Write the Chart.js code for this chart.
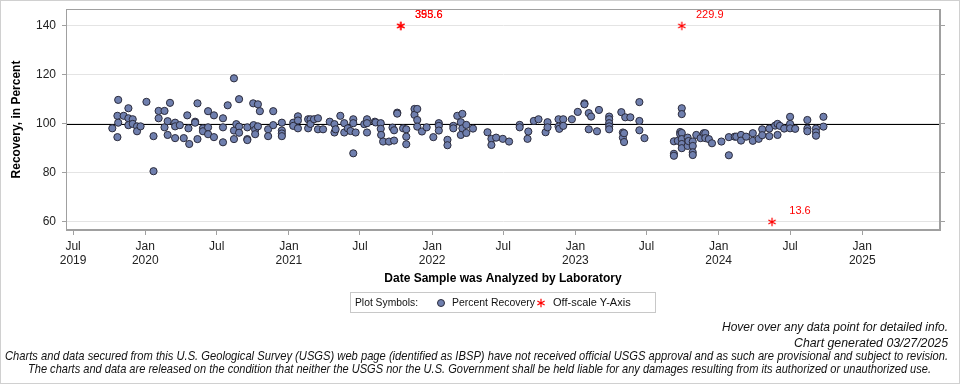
<!DOCTYPE html>
<html>
<head>
<meta charset="utf-8">
<script src="https://cdn.jsdelivr.net/npm/chart.js@4.4.1/dist/chart.umd.min.js"></script>
<style>
  html, body { margin: 0; padding: 0; background: #fff; }
  canvas { display: block; }
</style>
</head>
<body>
<canvas id="myChart" width="960" height="384"></canvas>
<script>
// recovery samples (date analyzed, percent recovery)
const recoveryDates = [
  '2019-10-09','2019-10-22','2019-10-22','2019-10-24','2019-10-24','2019-11-07','2019-11-19','2019-11-19','2019-11-19',
  '2019-11-30','2019-11-30','2019-12-11','2019-12-11','2019-12-20',
  '2020-01-04','2020-01-22','2020-01-22','2020-02-04','2020-02-04','2020-02-19','2020-02-19','2020-02-27','2020-02-27',
  '2020-03-04','2020-03-17','2020-03-17','2020-03-17','2020-03-29','2020-04-08','2020-04-17','2020-04-20','2020-04-22',
  '2020-05-07','2020-05-07','2020-05-13','2020-05-13','2020-05-27','2020-05-27','2020-06-09','2020-06-09','2020-06-09',
  '2020-06-24','2020-06-24','2020-07-17','2020-07-17','2020-07-17','2020-07-29','2020-08-14','2020-08-14','2020-08-14',
  '2020-08-20','2020-08-27','2020-08-27','2020-08-27','2020-09-17','2020-09-17','2020-09-17','2020-10-02','2020-10-03',
  '2020-10-07','2020-10-07','2020-10-14','2020-10-14','2020-10-19','2020-11-09','2020-11-09','2020-11-22','2020-11-22',
  '2020-12-14','2020-12-14','2020-12-14','2020-12-14',
  '2021-01-12','2021-01-12','2021-01-24','2021-01-24','2021-01-24','2021-02-19','2021-02-19','2021-02-25','2021-02-25',
  '2021-03-06','2021-03-16','2021-03-16','2021-03-29','2021-04-15','2021-04-27','2021-04-27','2021-04-30','2021-05-12',
  '2021-05-22','2021-05-22','2021-05-31','2021-06-07','2021-06-14','2021-06-14','2021-06-14','2021-06-20','2021-07-12',
  '2021-07-19','2021-07-19','2021-07-19','2021-08-08','2021-08-10','2021-08-23','2021-08-23','2021-08-24','2021-08-29',
  '2021-09-13','2021-09-22','2021-09-26','2021-09-26','2021-10-04','2021-10-04','2021-10-19','2021-10-27','2021-10-27',
  '2021-10-27','2021-11-17','2021-11-17','2021-11-24','2021-11-24','2021-11-24','2021-12-06','2021-12-18',
  '2022-01-04','2022-01-18','2022-01-18','2022-01-18','2022-02-09','2022-02-09','2022-02-24','2022-02-24','2022-03-06',
  '2022-03-15','2022-03-15','2022-03-19','2022-03-19','2022-03-29','2022-03-29','2022-04-15','2022-05-22','2022-06-01',
  '2022-06-01','2022-06-13','2022-06-30','2022-07-16','2022-08-12','2022-08-12','2022-09-01','2022-09-03','2022-09-17',
  '2022-09-29','2022-10-17','2022-10-22','2022-10-22','2022-11-19','2022-11-19','2022-11-21','2022-12-01','2022-12-01',
  '2022-12-23',
  '2023-01-07','2023-01-24','2023-01-24','2023-02-04','2023-02-04','2023-02-10','2023-02-25','2023-03-02','2023-03-28',
  '2023-03-28','2023-03-28','2023-03-28','2023-03-28','2023-04-28','2023-05-02','2023-05-02','2023-05-05','2023-05-05',
  '2023-05-08','2023-05-21','2023-06-13','2023-06-13','2023-06-13','2023-06-26','2023-09-09','2023-09-09','2023-09-09',
  '2023-09-19','2023-09-25','2023-09-25','2023-09-29','2023-09-29','2023-09-29','2023-09-29','2023-09-29','2023-09-29',
  '2023-10-14','2023-10-14','2023-10-16','2023-10-27','2023-10-27','2023-10-27','2023-10-27','2023-11-05','2023-11-16',
  '2023-11-24','2023-11-28','2023-11-28','2023-12-07','2023-12-15',
  '2024-01-08','2024-01-27','2024-01-27','2024-02-11','2024-02-15','2024-02-27','2024-02-27','2024-03-11','2024-03-28',
  '2024-03-28','2024-04-12','2024-04-21','2024-04-21','2024-05-09','2024-05-09','2024-05-24','2024-05-30','2024-05-30',
  '2024-06-05','2024-06-16','2024-07-01','2024-07-01','2024-07-01','2024-07-14','2024-08-14','2024-08-14','2024-08-14',
  '2024-09-05','2024-09-05','2024-09-05','2024-09-24','2024-09-24'
];
const recoveryValues = [
  98.2,103.3,94.6,109.8,100.5,103.3,106.4,102.3,99.5,
  101.9,100.0,99.0,97.0,99.0,
  109.0,95.0,80.7,105.3,102.3,105.3,98.6,101.1,95.5,
  108.6,100.5,99.0,94.2,99.5,94.2,103.5,98.2,91.8,
  100.9,100.5,108.4,93.8,98.2,97.0,105.2,98.6,95.8,
  103.5,94.6,102.3,98.6,92.5,107.6,118.6,97.3,93.8,
  99.9,110.1,98.9,96.4,98.6,93.8,93.4,108.4,99.5,
  97.6,95.8,108.0,99.0,105.2,97.8,95.0,105.2,99.5,
  100.5,97.3,96.1,95.0,
  100.5,99.2,103.1,101.4,98.2,101.9,98.2,101.9,100.0,
  101.9,102.3,97.8,97.8,100.9,99.9,96.5,97.8,103.3,
  100.3,96.5,98.2,97.1,101.9,100.3,88.0,96.5,99.9,
  101.9,100.3,96.5,100.9,100.6,100.3,98.0,95.5,92.8,
  92.8,98.5,97.4,93.2,104.6,104.2,98.2,97.8,94.8,
  91.7,106.1,103.7,106.1,101.6,98.9,96.9,98.6,
  94.6,100.3,99.2,97.3,93.5,91.3,99.2,98.2,103.3,
  100.7,95.5,104.1,98.2,99.6,96.3,98.1,96.6,93.9,
  91.4,94.4,93.9,92.8,99.6,98.6,93.9,96.9,101.2,
  101.9,96.6,100.7,98.6,101.9,98.9,98.0,101.9,99.2,
  101.9,
  104.9,108.4,108.0,104.4,97.8,103.0,97.0,105.7,103.0,
  101.9,100.3,99.0,97.8,104.8,96.5,94.4,96.2,92.6,
  102.7,102.7,108.9,101.2,97.4,94.2,92.9,87.8,87.0,
  93.1,96.7,95.8,106.4,104.0,96.3,93.8,91.8,90.1,
  94.4,91.0,93.0,92.8,91.0,88.4,87.3,95.5,94.2,
  96.2,96.2,94.2,93.8,92.1,
  92.8,94.6,87.2,94.8,94.8,95.5,93.2,94.8,96.2,
  93.1,93.9,97.8,95.4,98.1,95.0,99.3,100.0,95.5,
  99.2,98.1,102.9,100.0,98.2,98.0,101.6,98.1,97.0,
  98.1,96.6,95.2,102.9,98.9
];

// values outside the y range, drawn at the axis edge with their value
const offscaleDates = ['2021-10-13', '2021-10-13', '2023-09-29', '2024-05-16'];
const offscaleValues = [355.6, 393.6, 229.9, 13.6];

const yTicks = [60, 80, 100, 120, 140];
const xTickDates = ['2019-07-01', '2020-01-01', '2020-07-01', '2021-01-01', '2021-07-01', '2022-01-01', '2022-07-01',
                    '2023-01-01', '2023-07-01', '2024-01-01', '2024-07-01', '2025-01-01'];
const xTickLabels = [['Jul', '2019'], ['Jan', '2020'], 'Jul', ['Jan', '2021'], 'Jul', ['Jan', '2022'], 'Jul',
                     ['Jan', '2023'], 'Jul', ['Jan', '2024'], 'Jul', ['Jan', '2025']];

const toMs = s => Date.parse(s + 'T00:00:00Z');
const yMin = 56.7, yMax = 146.9;
const pointFill = '#6f7fae';

function makeStar(size) {
  const c = document.createElement('canvas');
  c.width = c.height = size;
  const g = c.getContext('2d');
  g.strokeStyle = '#ff0000';
  g.lineWidth = 1.2;
  const m = size / 2, r = size / 2 - 0.8;
  g.beginPath();
  for (let k = 0; k < 3; k++) {
    const a = Math.PI / 2 + k * Math.PI / 3;
    g.moveTo(m + r * Math.cos(a), m + r * Math.sin(a));
    g.lineTo(m - r * Math.cos(a), m - r * Math.sin(a));
  }
  g.stroke();
  return c;
}
const star = makeStar(10);

const extras = {
  id: 'extras',
  beforeDatasetsDraw(chart) {
    const { ctx, chartArea } = chart;
    const y = Math.round(chart.scales.y.getPixelForValue(100)) + 0.5;
    ctx.save();
    ctx.strokeStyle = '#000';
    ctx.lineWidth = 1;
    ctx.beginPath();
    ctx.moveTo(chartArea.left, y);
    ctx.lineTo(chartArea.right, y);
    ctx.stroke();
    ctx.restore();
  },
  afterDraw(chart) {
    const { ctx, chartArea } = chart;
    ctx.save();
    // outer page border
    ctx.strokeStyle = '#d0d0d0';
    ctx.lineWidth = 1;
    ctx.strokeRect(0.5, 0.5, chart.width - 1, chart.height - 1);
    // plot frame
    ctx.strokeStyle = '#a0a0a0';
    ctx.strokeRect(chartArea.left + 0.5, chartArea.top + 0.5, chartArea.width - 1, chartArea.height - 1);

    // off-scale value labels
    ctx.fillStyle = '#ff0000';
    ctx.font = '11px "Liberation Sans", Arial, sans-serif';
    ctx.textAlign = 'center';
    ctx.textBaseline = 'middle';
    offscaleDates.forEach((d, i) => {
      const px = chart.scales.x.getPixelForValue(toMs(d));
      const py = chart.scales.y.getPixelForValue(Math.min(Math.max(offscaleValues[i], 60), 140));
      ctx.fillText(offscaleValues[i].toFixed(1), px + 28, py - 11);
    });

    // legend box
    ctx.strokeStyle = '#c8c8c8';
    ctx.strokeRect(350.5, 292.5, 305, 20);
    ctx.fillStyle = '#111';
    ctx.textAlign = 'left';
    ctx.fillText('Plot Symbols:', 355, 303, 63);
    ctx.beginPath();
    ctx.arc(441, 303, 3.5, 0, Math.PI * 2);
    ctx.fillStyle = pointFill;
    ctx.fill();
    ctx.strokeStyle = '#2b2b3b';
    ctx.stroke();
    ctx.fillStyle = '#111';
    ctx.fillText('Percent Recovery', 452, 303, 83);
    ctx.drawImage(star, 536, 298);
    ctx.fillText('Off-scale Y-Axis', 553, 303, 96);

    // footer notes
    ctx.font = 'italic 13px "Liberation Sans", Arial, sans-serif';
    ctx.textAlign = 'right';
    ctx.fillText('Hover over any data point for detailed info.', 948, 327, 226);
    ctx.fillText('Chart generated 03/27/2025', 948, 343, 154);
    ctx.textAlign = 'center';
    ctx.fillText('Charts and data secured from this U.S. Geological Survey (USGS) web page (identified as IBSP) have not received official USGS approval and as such are provisional and subject to revision.', 476.5, 356, 943);
    ctx.fillText('The charts and data are released on the condition that neither the USGS nor the U.S. Government shall be held liable for any damages resulting from its authorized or unauthorized use.', 479.5, 369, 903);
    ctx.restore();
  }
};

Chart.defaults.font.family = '"Liberation Sans", Arial, sans-serif';
Chart.defaults.font.size = 12;
Chart.defaults.color = '#222';

const fitY = w => s => { s.width = w; s.paddingTop = 0; s.paddingBottom = 0; };

const ctx = document.getElementById('myChart').getContext('2d');
new Chart(ctx, {
  type: 'scatter',
  data: {
    datasets: [{
      label: 'Percent Recovery',
      data: recoveryDates.map((d, i) => ({ x: toMs(d), y: recoveryValues[i] })),
      backgroundColor: pointFill,
      borderColor: '#2b2b3b',
      borderWidth: 1,
      pointRadius: 3.6,
      pointHoverRadius: 4.5
    }, {
      label: 'Off-scale Y-Axis',
      data: offscaleDates.map((d, i) => ({ x: toMs(d), y: Math.min(Math.max(offscaleValues[i], 60), 140) })),
      pointStyle: star,
      pointRadius: 5
    }]
  },
  options: {
    responsive: false,
    animation: false,
    layout: { padding: { top: 9, left: 0, right: 0, bottom: 94 } },
    plugins: { legend: { display: false }, tooltip: { enabled: true } },
    scales: {
      x: {
        type: 'linear',
        min: toMs('2019-06-13'),
        max: toMs('2025-07-18'),
        afterBuildTicks: s => { s.ticks = xTickDates.map(d => ({ value: toMs(d) })); },
        afterFit: s => { s.height = 60; },
        ticks: {
          autoSkip: false,
          maxRotation: 0,
          padding: 4,
          callback: (v, i) => xTickLabels[i]
        },
        grid: { drawOnChartArea: false, tickLength: 5, tickColor: '#a0a0a0' },
        border: { color: '#a0a0a0' },
        title: {
          display: true,
          text: 'Date Sample was Analyzed by Laboratory',
          font: { weight: 'bold', size: 12 },
          color: '#000',
          padding: { top: 0, bottom: 4 }
        }
      },
      y: {
        min: yMin,
        max: yMax,
        afterBuildTicks: s => { s.ticks = yTicks.map(v => ({ value: v })); },
        afterFit: fitY(66),
        ticks: { padding: 6 },
        grid: { color: '#e4e4e4', tickLength: 4, tickColor: '#a0a0a0' },
        border: { color: '#a0a0a0' },
        title: {
          display: true,
          text: 'Recovery, in Percent',
          font: { weight: 'bold', size: 12 },
          color: '#000',
          padding: { top: 9, bottom: 0 }
        }
      },
      y2: {
        position: 'right',
        min: yMin,
        max: yMax,
        afterBuildTicks: s => { s.ticks = yTicks.map(v => ({ value: v })); },
        afterFit: fitY(20),
        ticks: { display: false },
        grid: { drawOnChartArea: false, tickLength: 5, tickColor: '#a0a0a0' },
        border: { color: '#a0a0a0' }
      }
    }
  },
  plugins: [extras]
});
</script>
</body>
</html>
